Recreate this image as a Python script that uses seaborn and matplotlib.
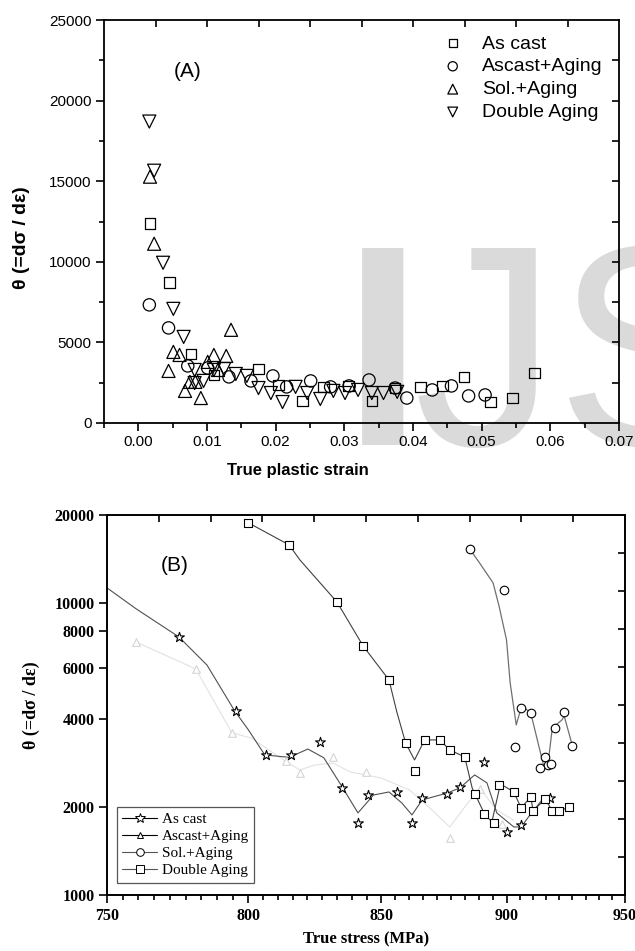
import numpy as np
import matplotlib
matplotlib.use("Agg")
import matplotlib.pyplot as plt
from matplotlib.lines import Line2D
import seaborn as sns

# ---------------- Panel A data (true plastic strain vs theta) ----------------
as_cast_x = [0.0017, 0.0045, 0.0077, 0.0110, 0.0175, 0.0204, 0.0239, 0.0270, 0.0306,
             0.0340, 0.0374, 0.0411, 0.0443, 0.0474, 0.0513, 0.0545, 0.0577]
as_cast_y = [12360, 8700, 4290, 2980, 3350, 2360, 1370, 2240, 2300,
             1370, 2170, 2240, 2300, 2860, 1300, 1550, 3100]

ascast_aging_x = [0.0016, 0.0044, 0.0072, 0.0101, 0.0132, 0.0164, 0.0196, 0.0216, 0.0251,
                  0.0280, 0.0307, 0.0336, 0.0374, 0.0391, 0.0428, 0.0456, 0.0481, 0.0505]
ascast_aging_y = [7330, 5900, 3540, 3410, 2860, 2610, 2920, 2240, 2610,
                  2240, 2300, 2670, 2170, 1550, 2050, 2300, 1680, 1740]

sol_aging_x = [0.0017, 0.0023, 0.0044, 0.0051, 0.0060, 0.0068, 0.0075, 0.0083, 0.0091,
               0.0101, 0.0110, 0.0116, 0.0128, 0.0135]
sol_aging_y = [15280, 11120, 3230, 4410, 4220, 1990, 2550, 2550, 1550,
               3790, 4220, 3290, 4160, 5780]

double_aging_x = [0.0016, 0.0023, 0.0036, 0.0051, 0.0066, 0.0082, 0.0082, 0.0095, 0.0110,
                  0.0125, 0.0142, 0.0158, 0.0175, 0.0193, 0.0210, 0.0229, 0.0246, 0.0265,
                  0.0284, 0.0301, 0.0320, 0.0340, 0.0357, 0.0377]
double_aging_y = [18700, 15650, 9940, 7080, 5340, 3290, 2480, 2610, 3290,
                  3350, 3040, 2920, 2170, 1860, 1300, 2240, 1860, 1490,
                  1990, 1860, 2050, 1860, 1860, 1930]

a_xticks = [0.00, 0.01, 0.02, 0.03, 0.04, 0.05, 0.06, 0.07]
a_xticklabels = ["0.00", "0.01", "0.02", "0.03", "0.04", "0.05", "0.06", "0.07"]
a_yticks = [0, 5000, 10000, 15000, 20000, 25000]
a_yticklabels = ["0", "5000", "10000", "15000", "20000", "25000"]
labels = ["As cast", "Ascast+Aging", "Sol.+Aging", "Double Aging"]

# ---------------- Panel B data (true stress vs theta, log-log) ----------------
b_ac_x = [775, 795.5, 806.5, 815.8, 826.6, 835, 841, 845, 856, 862, 866, 876, 881, 891, 900, 906, 918]
b_ac_y = [7650, 4267, 3017, 3017, 3342, 2325, 1764, 2200, 2253, 1764, 2148, 2218, 2343, 2854, 1643, 1737, 2148]
b_ac_fit_x = [750, 760, 775, 785, 795, 800, 806, 815, 822, 828, 835, 841, 847, 853, 858, 862,
              866, 876, 881, 887, 892, 896, 903, 906, 910, 915, 917]
b_ac_fit_y = [11260, 9550, 7650, 6130, 4267, 3675, 3017, 2960, 3160, 2950, 2343, 1910, 2200, 2253,
              2066, 1880, 2115, 2235, 2325, 2577, 2420, 1910, 1710, 1710, 1894, 2130, 2148]

b_aa_x = [760, 781, 794, 814, 819, 831.5, 844, 877, 889, 898]
b_aa_y = [7350, 5943, 3588, 2877, 2617, 2970, 2638, 1567, 2300, 1750]
b_aa_fit_x = [760, 781, 794, 801, 814, 819, 824.5, 831.5, 838, 850, 861, 870, 877, 883, 889, 896, 903]
b_aa_fit_y = [7350, 5943, 3588, 3450, 2855, 2680, 2785, 2830, 2638, 2515, 2290, 1950, 1710, 2000,
              2325, 1955, 1800]

b_sa_x = [885, 899, 906, 910, 903.5, 916, 914, 917, 918.5, 920, 924, 927.5]
b_sa_y = [15300, 11080, 4369, 4200, 3213, 2969, 2722, 2788, 2810, 3733, 4234, 3238]
b_sa_fit_x = [885, 889, 894.5, 897, 900, 901.5, 904, 906, 907, 910, 915.5, 917, 919, 923, 924, 927.5]
b_sa_fit_y = [15300, 13700, 11710, 9700, 7470, 5320, 3822, 4369, 4400, 4200, 2745, 2722, 3733,
              3970, 4100, 3238]

b_da_x = [800, 815, 833, 843, 853, 859.5, 863, 867, 873, 877, 883, 887, 891, 895, 897, 903,
          906, 910, 911, 916, 919, 922, 926]
b_da_y = [18800, 15800, 10070, 7120, 5450, 3316, 2659, 3396, 3396, 3138, 2969, 2218, 1894, 1764,
          2381, 2253, 1986, 2165, 1940, 2132, 1940, 1940, 2001]
b_da_fit_x = [800, 815, 819, 833, 843, 853, 856, 859.5, 863, 867, 873, 877, 883, 886, 891, 894,
              897, 899, 903, 906, 910, 911, 916, 919, 922, 926]
b_da_fit_y = [18800, 15800, 14040, 10070, 7120, 5450, 4250, 3316, 2900, 3396, 3396, 3138, 2969,
              2325, 1894, 1778, 2300, 2360, 2253, 1986, 2165, 1940, 2132, 1940, 1940, 2001]

b_xticks = [750, 800, 850, 900, 950]
b_xticklabels = ["750", "800", "850", "900", "950"]
b_yticks = [1000, 2000, 4000, 6000, 8000, 10000, 20000]
b_yticklabels = ["1000", "2000", "4000", "6000", "8000", "10000", "20000"]

# ---------------- style ----------------
sns.set_theme(style="ticks")
plt.rcParams["font.family"] = ["Liberation Sans", "DejaVu Sans"]
plt.rcParams["axes.linewidth"] = 1.3

W, H = 635, 951
fig = plt.figure(figsize=(W / 100, H / 100), dpi=100, facecolor="white")

def px_axes(l, t, r, b):
    return [l / W, 1 - b / H, (r - l) / W, (b - t) / H]

def add_overlay_ticks(pos):
    ov = fig.add_axes(pos, frameon=False)
    ov.set_xlim(0, 1)
    ov.set_ylim(0, 1)
    ov.set_xticks(np.arange(1, 10) / 10)
    ov.set_yticks(np.arange(1, 10) / 10)
    ov.xaxis.set_ticks_position("top")
    ov.yaxis.set_ticks_position("right")
    ov.tick_params(direction="in", length=5, width=1.2, color="black",
                   labeltop=False, labelright=False, labelbottom=False, labelleft=False)
    ov.patch.set_visible(False)
    return ov

# watermark (behind the transparent top axes)
wm = dict(fontsize=206, color="#dadada", family=["Liberation Sans", "DejaVu Sans"],
          ha="left", va="baseline", zorder=-1)
fig.text(343 / W, 1 - 445 / H, "I", fontweight="bold", **wm)
fig.text(414 / W, 1 - 445 / H, "JS", **wm)

# ================= Panel A =================
posA = px_axes(104, 20, 619, 423)
ax1 = fig.add_axes(posA)
ax1.set_facecolor("none")
mk = dict(facecolor="none", edgecolor="black", linewidth=0.9, zorder=3)
sns.scatterplot(x=as_cast_x, y=as_cast_y, marker="s", s=58, ax=ax1, label=labels[0], **mk)
sns.scatterplot(x=ascast_aging_x, y=ascast_aging_y, marker="o", s=78, ax=ax1, label=labels[1], **mk)
sns.scatterplot(x=sol_aging_x, y=sol_aging_y, marker="^", s=88, ax=ax1, label=labels[2], **mk)
sns.scatterplot(x=double_aging_x, y=double_aging_y, marker="v", s=88, ax=ax1, label=labels[3], **mk)

ax1.set_xlim(-0.005, 0.07)
ax1.set_ylim(0, 25000)
ax1.set_xticks(a_xticks)
ax1.set_xticklabels(a_xticklabels)
ax1.set_xticks(np.arange(-0.005, 0.0701, 0.005), minor=True)
ax1.set_yticks(a_yticks)
ax1.set_yticklabels(a_yticklabels)
ax1.set_yticks(np.arange(0, 25001, 2500), minor=True)
ax1.tick_params(which="major", direction="out", length=6, width=1.2, labelsize=11, pad=3,
                color="black", labelcolor="black")
ax1.tick_params(which="minor", direction="out", length=3.5, width=1.2, color="black")
for s in ax1.spines.values():
    s.set_color("black")
    s.set_linewidth(1.3)
ax1.grid(False)
ax1.set_xlabel("True plastic strain", fontsize=12, fontweight="bold", color="black")
ax1.xaxis.label.set_va("center")
ax1.xaxis.set_label_coords(0.376, -0.117)
ax1.set_ylabel("θ (=dσ / dε)", fontsize=14, fontweight="bold", color="black")
ax1.yaxis.label.set_va("center")
ax1.yaxis.set_label_coords(-0.161, 0.46)
ax1.text(0.163, 0.871, "(A)", transform=ax1.transAxes, fontsize=15, ha="center", va="center",
         color="black")
leg1 = ax1.legend(loc="upper right", bbox_to_anchor=(0.968, 0.963), frameon=False, fontsize=14,
                  handlelength=1.0, handletextpad=1.0, labelspacing=0.27, markerscale=0.75,
                  borderaxespad=0, borderpad=0)
for t in leg1.get_texts():
    t.set_color("black")
add_overlay_ticks(posA)

# ================= Panel B =================
posB = px_axes(107, 515, 625, 895)
ax2 = fig.add_axes(posB)
ax2.set_facecolor("white")
ax2.set_xscale("log")
ax2.set_yscale("log")

line_kw = dict(sort=False, estimator=None, ax=ax2, legend=False, zorder=2)
sns.lineplot(x=b_aa_fit_x, y=b_aa_fit_y, color="#e2e2e2", linewidth=0.8, **line_kw)
sns.lineplot(x=b_ac_fit_x, y=b_ac_fit_y, color="#505050", linewidth=0.8, **line_kw)
sns.lineplot(x=b_sa_fit_x, y=b_sa_fit_y, color="#707070", linewidth=0.9, **line_kw)
sns.lineplot(x=b_da_fit_x, y=b_da_fit_y, color="#404040", linewidth=0.8, **line_kw)

mkb = dict(facecolor="white", linewidth=0.8, zorder=3, ax=ax2, legend=False)
sns.scatterplot(x=b_aa_x, y=b_aa_y, marker="^", s=30, edgecolor="#d4d4d4", **mkb)
sns.scatterplot(x=b_ac_x, y=b_ac_y, marker="*", s=55, edgecolor="black", **mkb)
sns.scatterplot(x=b_sa_x, y=b_sa_y, marker="o", s=38, edgecolor="black", **mkb)
sns.scatterplot(x=b_da_x, y=b_da_y, marker="s", s=38, edgecolor="black", **mkb)

ax2.set_xlim(750, 950)
ax2.set_ylim(1000, 20000)
ax2.set_xticks(b_xticks)
ax2.set_xticklabels(b_xticklabels)
minors = []
for a, b in zip(b_xticks[:-1], b_xticks[1:]):
    minors.extend(list(np.geomspace(a, b, 10)[1:-1]))
ax2.set_xticks(minors, minor=True)
ax2.set_xticklabels([], minor=True)
ax2.set_yticks(b_yticks)
ax2.set_yticklabels(b_yticklabels)
ax2.set_yticks([], minor=True)
serif_bold = dict(family=["Liberation Serif", "DejaVu Serif"], weight="bold")
for lab in ax2.get_xticklabels() + ax2.get_yticklabels():
    lab.set_fontfamily(["Liberation Serif", "DejaVu Serif"])
    lab.set_fontweight("bold")
ax2.tick_params(which="major", direction="out", length=6, width=1.2, labelsize=11.5, pad=3,
                color="black", labelcolor="black")
ax2.tick_params(which="minor", direction="out", length=3.5, width=1.2, color="black")
for s in ax2.spines.values():
    s.set_color("black")
    s.set_linewidth(1.4)
ax2.grid(False)
ax2.set_xlabel("True stress (MPa)", fontsize=12, color="black", **serif_bold)
ax2.xaxis.label.set_va("center")
ax2.xaxis.set_label_coords(0.5, -0.118)
ax2.set_ylabel("θ (=dσ / dε)", fontsize=13, color="black", **serif_bold)
ax2.yaxis.label.set_va("center")
ax2.yaxis.set_label_coords(-0.147, 0.5)
ax2.text(0.131, 0.868, "(B)", transform=ax2.transAxes, fontsize=15, ha="center", va="center",
         color="black")

handles = [
    Line2D([], [], color="black", lw=0.8, marker="*", ms=7, mfc="white", mec="black", mew=0.7),
    Line2D([], [], color="black", lw=0.8, marker="^", ms=5, mfc="white", mec="black", mew=0.7),
    Line2D([], [], color="#555555", lw=0.8, marker="o", ms=5.5, mfc="white", mec="black", mew=0.7),
    Line2D([], [], color="#555555", lw=0.8, marker="s", ms=5.5, mfc="white", mec="black", mew=0.7),
]
leg2 = ax2.legend(handles, labels, loc="lower left", bbox_to_anchor=(0.019, 0.032),
                  frameon=True, fancybox=False, edgecolor="#555555", framealpha=1,
                  prop=dict(family=["Liberation Serif", "DejaVu Serif"], size=11),
                  handlelength=2.3, handletextpad=0.3, labelspacing=0.22, borderpad=0.35,
                  borderaxespad=0)
leg2.get_frame().set_linewidth(0.9)
for t in leg2.get_texts():
    t.set_color("black")
add_overlay_ticks(posB)

fig.savefig("out.png", dpi=100, facecolor="white")
